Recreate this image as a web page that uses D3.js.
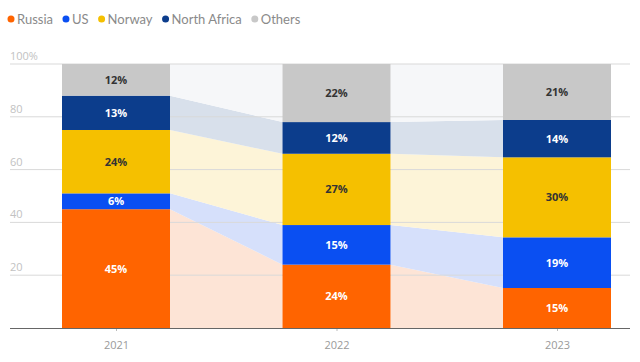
<!DOCTYPE html>
<html><head><meta charset="utf-8">
<script src="https://cdn.jsdelivr.net/npm/d3@7"></script>
<style>
html,body{margin:0;padding:0;background:#fff;}
svg{display:block;font-family:"Open Sans","Noto Sans",sans-serif;}
</style></head>
<body><svg id="c" width="640" height="362"></svg>
<script>
const years = ["2021", "2022", "2023"];
const seriesNames = ["Russia", "US", "Norway", "North Africa", "Others"];
const russia = [45, 24, 15];
const us = [6, 15, 19];
const norway = [24, 27, 30];
const northAfrica = [13, 12, 14];
const others = [12, 22, 21];
const yTicks = [0, 20, 40, 60, 80, 100];
const yTickLabels = ["", "20", "40", "60", "80", "100%"];

const colors = ["#ff6400", "#0a4ff2", "#f5c000", "#0c3d8c", "#c8c8c8"];
const ribbonColors = ["#fde4d6", "#d6e0fb", "#fdf4d8", "#d8e0eb", "#f6f7f9"];
const labelColors = ["#fff", "#fff", "#333", "#fff", "#333"];

const seriesVals = [russia, us, norway, northAfrica, others];
const rows = years.map((y, i) => {
  const r = {year: y};
  seriesNames.forEach((s, k) => r[s] = seriesVals[k][i]);
  return r;
});
const stack = d3.stack().keys(seriesNames).offset(d3.stackOffsetExpand);
const stacked = stack(rows);

const svg = d3.select("#c");
const x = d3.scalePoint().domain(years).range([116, 557]);
const bw = 108;
const y = d3.scaleLinear().domain([0, 1]).range([328, 64]);

// ribbons
stacked.forEach((s, k) => {
  for (let i = 0; i < years.length - 1; i++) {
    const a = s[i], b = s[i + 1];
    const xa = x(years[i]) + bw / 2, xb = x(years[i + 1]) - bw / 2;
    const pts = [[xa, y(a[1])], [xb, y(b[1])], [xb, y(b[0])], [xa, y(a[0])]];
    svg.append("path").attr("d", "M" + pts.join("L") + "Z")
      .attr("fill", ribbonColors[k]);
  }
});

// gridlines
const yl = y.copy().domain([0, 100]);
svg.append("g").selectAll("line").data(yTicks.filter(t => t > 0)).join("line")
  .attr("x1", 10).attr("x2", 630)
  .attr("y1", d => yl(d)).attr("y2", d => yl(d))
  .attr("stroke", "#d9d9d9").attr("stroke-width", 1);
svg.append("g").selectAll("text").data(yTicks.filter(t => t > 0)).join("text")
  .attr("x", 10).attr("y", d => yl(d) - 4)
  .attr("font-size", 11).attr("fill", "#c2c2c2")
  .text(d => yTickLabels[yTicks.indexOf(d)]);

// bars
stacked.forEach((s, k) => {
  const g = svg.append("g");
  g.selectAll("rect").data(s).join("rect")
    .attr("x", d => x(d.data.year) - bw / 2)
    .attr("width", bw)
    .attr("y", d => y(d[1]))
    .attr("height", d => y(d[0]) - y(d[1]))
    .attr("fill", colors[k]);
  g.selectAll("text").data(s).join("text")
    .attr("x", d => x(d.data.year))
    .attr("y", d => (y(d[0]) + y(d[1])) / 2 + 4)
    .attr("text-anchor", "middle")
    .attr("font-size", 11).attr("font-weight", "bold")
    .attr("fill", labelColors[k])
    .text(d => d.data[seriesNames[k]] + "%");
});

// x axis
const xAxis = d3.axisBottom(x).tickSize(3).tickPadding(10);
const ax = svg.append("g").attr("transform", "translate(0,328)").call(xAxis);
ax.select(".domain").remove();
ax.selectAll("line").attr("stroke", "#bbb");
ax.selectAll("text").attr("font-size", 11).attr("fill", "#9a9a9a")
  .attr("font-family", "'Open Sans','Noto Sans',sans-serif");
svg.append("line").attr("x1", 10).attr("x2", 630).attr("y1", 328.5).attr("y2", 328.5)
  .attr("stroke", "#666").attr("stroke-width", 1);

// legend
const leg = svg.append("g");
let lx = 11;
seriesNames.forEach((s, k) => {
  leg.append("circle").attr("cx", lx).attr("cy", 19).attr("r", 3.5).attr("fill", colors[k]);
  const t = leg.append("text").attr("x", lx + 6).attr("y", 23.5)
    .attr("font-family", "Lato, 'Open Sans', sans-serif")
    .attr("font-size", 13).attr("fill", "#8a8a8a").text(s);
  lx += 6 + t.node().getComputedTextLength() + 13;
});
</script></body></html>
